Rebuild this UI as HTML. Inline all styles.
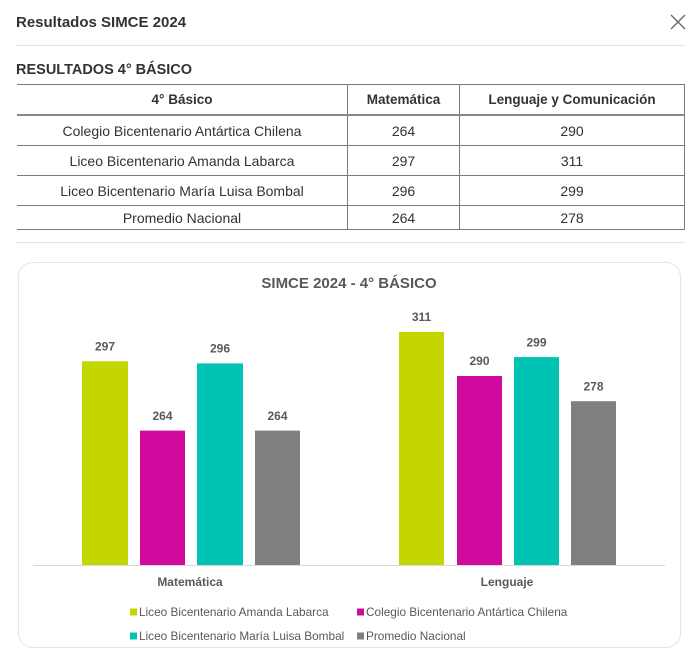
<!DOCTYPE html>
<html><head><meta charset="utf-8">
<style>
html,body{margin:0;padding:0;background:#fff;}
body{width:700px;height:662px;position:relative;overflow:hidden;font-family:"Liberation Sans",Arial,sans-serif;color:#333;}
.t1{position:absolute;left:16px;top:13px;font-size:15px;font-weight:bold;color:#333;line-height:20px;}
.sep{position:absolute;left:16px;width:669px;height:1px;background:#e3e3e3;}
.t2{position:absolute;left:16px;top:60px;font-size:14.5px;font-weight:bold;color:#333;line-height:20px;}
table{position:absolute;left:17px;top:84px;width:668px;border-collapse:collapse;font-size:14px;color:#333;}
td,th{text-align:center;padding:0;border-top:1px solid #7a7a7a;border-bottom:1px solid #7a7a7a;}
th{font-weight:bold;height:29px;border-bottom:2px solid #888;font-size:13.5px;}
td{height:29px;}
td.c2,th.c2{border-left:1px solid #7a7a7a;}
td.c3,th.c3{border-left:1px solid #7a7a7a;border-right:1px solid #7a7a7a;}
tr.last td{height:23px;}
.card{position:absolute;left:18px;top:262px;width:663px;height:386px;border:1.5px solid #e4e4e4;border-radius:15px;box-sizing:border-box;}
svg{position:absolute;left:0;top:0;}
</style></head><body>
<div class="t1">Resultados SIMCE 2024</div>
<svg width="700" height="662" style="z-index:2;pointer-events:none">
<line x1="671" y1="15" x2="685" y2="29" stroke="#666" stroke-width="1.3"/>
<line x1="685" y1="15" x2="671" y2="29" stroke="#666" stroke-width="1.3"/>
</svg>
<div class="sep" style="top:45px"></div>
<div class="t2">RESULTADOS 4° BÁSICO</div>
<table>
<tr><th style="width:330px">4° Básico</th><th class="c2" style="width:111px">Matemática</th><th class="c3">Lenguaje y Comunicación</th></tr>
<tr><td>Colegio Bicentenario Antártica Chilena</td><td class="c2">264</td><td class="c3">290</td></tr>
<tr><td>Liceo Bicentenario Amanda Labarca</td><td class="c2">297</td><td class="c3">311</td></tr>
<tr><td>Liceo Bicentenario María Luisa Bombal</td><td class="c2">296</td><td class="c3">299</td></tr>
<tr class="last"><td>Promedio Nacional</td><td class="c2">264</td><td class="c3">278</td></tr>
</table>
<div class="sep" style="top:242px"></div>
<div class="card"></div>
<svg width="700" height="662" font-family="Liberation Sans, Arial, sans-serif">
<text x="349" y="288" text-anchor="middle" font-size="15" font-weight="bold" fill="#595959">SIMCE 2024 - 4° BÁSICO</text>
<line x1="33" y1="565.5" x2="665" y2="565.5" stroke="#d9d9d9" stroke-width="1"/>
<rect x="82" y="361.3" width="46" height="203.7" fill="#c4d600"/>
<rect x="140" y="430.6" width="45" height="134.4" fill="#d10a9e"/>
<rect x="197" y="363.4" width="46" height="201.6" fill="#00c4b3"/>
<rect x="255" y="430.6" width="45" height="134.4" fill="#7f7f7f"/>
<rect x="399" y="331.9" width="45" height="233.1" fill="#c4d600"/>
<rect x="457" y="376" width="45" height="189" fill="#d10a9e"/>
<rect x="514" y="357.1" width="45" height="207.9" fill="#00c4b3"/>
<rect x="571" y="401.2" width="45" height="163.8" fill="#7f7f7f"/>
<g font-size="12" font-weight="bold" fill="#595959" text-anchor="middle">
<text x="105" y="350.5">297</text>
<text x="162.5" y="420">264</text>
<text x="220" y="352.5">296</text>
<text x="277.5" y="420">264</text>
<text x="421.5" y="321">311</text>
<text x="479.5" y="365">290</text>
<text x="536.5" y="346.5">299</text>
<text x="593.5" y="390.5">278</text>
<text x="190" y="586">Matemática</text>
<text x="507" y="586">Lenguaje</text>
</g>
<g font-size="11.8" fill="#595959">
<rect x="130" y="608.5" width="7" height="7" fill="#c4d600"/>
<text x="139" y="616">Liceo Bicentenario Amanda Labarca</text>
<rect x="357" y="608.5" width="7" height="7" fill="#d10a9e"/>
<text x="366" y="616">Colegio Bicentenario Antártica Chilena</text>
<rect x="130" y="632.5" width="7" height="7" fill="#00c4b3"/>
<text x="139" y="640">Liceo Bicentenario María Luisa Bombal</text>
<rect x="357" y="632.5" width="7" height="7" fill="#7f7f7f"/>
<text x="366" y="640">Promedio Nacional</text>
</g>
</svg>
</body></html>
